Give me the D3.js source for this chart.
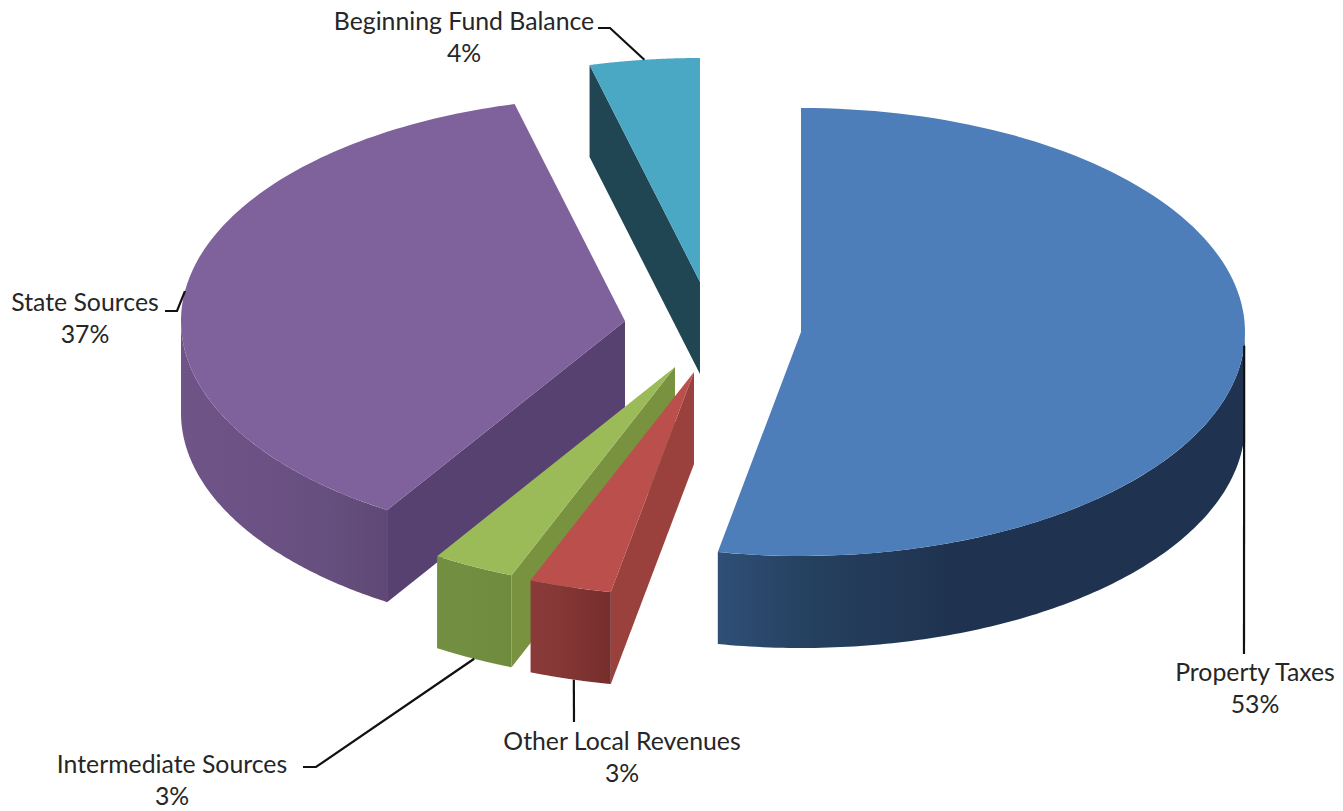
<!DOCTYPE html>
<html>
<head>
<meta charset="utf-8">
<title>Revenue sources</title>
<script src="https://cdnjs.cloudflare.com/ajax/libs/d3/7.8.5/d3.min.js"></script>
<style>
  html, body { margin: 0; padding: 0; background: #fff; }
  svg { display: block; }
  text { font-family: Lato, "Open Sans", sans-serif; font-size: 24.8px; fill: #262626; text-anchor: middle; }
</style>
</head>
<body>
<svg id="chart" width="1343" height="811"></svg>
<script>
// Revenue shares, in clockwise order from twelve o'clock
const sourceNames = ["Property Taxes", "Other Local Revenues", "Intermediate Sources", "State Sources", "Beginning Fund Balance"];
const sourceShares = [53, 3, 3, 37, 4];

// Exploded position of each wedge's apex on the top plane
const apexX = [801, 694, 675, 625, 700];
const apexY = [332, 372, 367, 321, 282];

// Colours: top face, cut face, outer wall gradient stops (left to right)
const topColors = ["#4D7EBA", "#BB4F4C", "#9BBB59", "#7F619B", "#4BA8C4"];
const cutColors = ["#1F3350", "#9A403D", "#78923F", "#564170", "#1F4652"];
const wallStops = [
  ["#2F4F76", "#25405F", "#1F3350", "#1F3350"],
  ["#8A3B39", "#853836", "#7C3230", "#762E2C"],
  ["#738F42", "#728E41", "#708C3F", "#6F8B3E"],
  ["#6F5488", "#6C5185", "#66507F", "#5F4875"],
  ["#1F4652", "#1F4652", "#1F4652", "#1F4652"]
];
const wallOffsets = [
  [0, 0.18, 0.45, 1],
  [0, 0.35, 0.7, 1],
  [0, 0.35, 0.7, 1],
  [0, 0.35, 0.7, 1],
  [0, 0.35, 0.7, 1]
];

// Label centres, leader elbows and where along the rim each leader lands
const labelX = [1255, 622, 172, 85, 464];
const labelY = [681, 750, 773, 311, 30];
const leaderPaths = [
  [[1244, 654]],
  [[574, 722]],
  [[303, 767], [316, 767]],
  [[165, 311], [177, 311]],
  [[598, 28], [610, 28]]
];
const leaderFraction = [0.49, 0.454, 0.49, 0.49, 0.5];
const leaderOnBase = [false, true, true, false, false];

// Ellipse radii of the tilted disc and extruded depth
const radiusX = 444, radiusY = 224, depth = 92;
// Back-to-front painting order
const paintOrder = [4, 3, 2, 1, 0];

const svg = d3.select("#chart");
const defs = svg.append("defs");
const slices = d3.pie().sort(null).startAngle(0).endAngle(2 * Math.PI)(sourceShares);
const line = d3.line();

// Point on the rim of wedge i at a given pie angle
const rim = (i, a, dy = 0) => [
  apexX[i] + radiusX * Math.sin(a),
  apexY[i] - radiusY * Math.cos(a) + dy
];
const arcPoints = (i, a0, a1, dy = 0) =>
  d3.range(0, 121).map(k => rim(i, a0 + (a1 - a0) * k / 120, dy));

const chart = svg.append("g");

paintOrder.forEach(i => {
  const { startAngle: a0, endAngle: a1 } = slices[i];
  const apex = [apexX[i], apexY[i]];
  const g = chart.append("g");

  // A cut face shows when its outward normal turns toward the viewer
  const cutFace = a => {
    const p = rim(i, a);
    return [apex, p, [p[0], p[1] + depth], [apex[0], apex[1] + depth]];
  };
  if (Math.sin(a0) < -1e-6) {
    g.append("path").attr("d", line(cutFace(a0)) + "Z").attr("fill", cutColors[i]);
  }
  if (Math.sin(a1) > 1e-6) {
    g.append("path").attr("d", line(cutFace(a1)) + "Z").attr("fill", cutColors[i]);
  }

  // Outer wall: only the front half of the rim is visible
  const w0 = Math.max(a0, Math.PI / 2), w1 = Math.min(a1, 1.5 * Math.PI);
  if (w1 > w0) {
    const id = "wall" + i;
    const grad = defs.append("linearGradient").attr("id", id)
      .attr("x1", 0).attr("x2", 1).attr("y1", 0).attr("y2", 0);
    wallStops[i].forEach((c, k) => {
      grad.append("stop").attr("offset", wallOffsets[i][k]).attr("stop-color", c);
    });
    const top = arcPoints(i, w0, w1);
    const bottom = arcPoints(i, w1, w0, depth);
    g.append("path").attr("d", line(top.concat(bottom)) + "Z").attr("fill", `url(#${id})`);
  }

  // Top face
  const topFace = [apex].concat(arcPoints(i, a0, a1));
  g.append("path").attr("d", line(topFace) + "Z").attr("fill", topColors[i]);
});

// Leader lines from the rim out to their labels
const leaders = svg.append("g").attr("fill", "none").attr("stroke", "#111").attr("stroke-width", 2.2);
slices.forEach((s, i) => {
  const a = s.startAngle + (s.endAngle - s.startAngle) * leaderFraction[i];
  const anchor = rim(i, a, leaderOnBase[i] ? depth : 0);
  leaders.append("path").attr("d", line(leaderPaths[i].concat([anchor])));
});

// Two-line labels: name above, share below
const labels = svg.append("g");
sourceNames.forEach((name, i) => {
  const t = labels.append("text").attr("transform", `translate(${labelX[i]},${labelY[i]})`);
  t.append("tspan").attr("x", 0).attr("y", 0).text(name);
  t.append("tspan").attr("x", 0).attr("y", 32).text(sourceShares[i] + "%");
});
</script>
</body>
</html>
